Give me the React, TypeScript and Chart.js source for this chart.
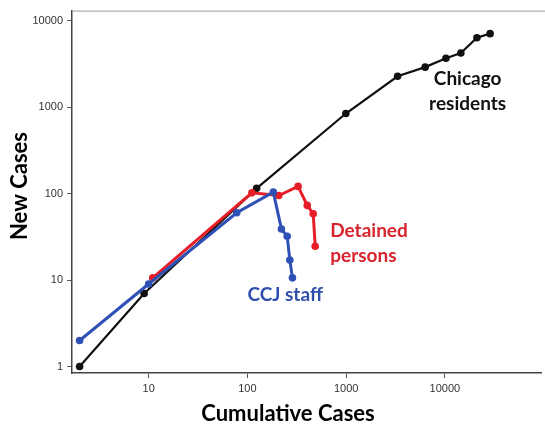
import React, { useEffect, useRef } from 'react';
import { Chart, registerables } from 'chart.js';

Chart.register(...registerables);

// Chicago residents
const chicagoCumulative = [2, 9, 124, 993, 3320, 6310, 10250, 14500, 21100, 28700];
const chicagoNew = [1, 7, 115, 843, 2275, 2900, 3670, 4230, 6350, 7070];
// CCJ staff
const staffCumulative = [2, 10, 78, 183, 221, 253, 269, 286];
const staffNew = [2, 9, 60, 104, 39, 32, 17, 10.6];
// Detained persons
const detainedCumulative = [11, 111, 208, 326, 404, 464, 486];
const detainedNew = [10.6, 102, 95, 121, 73, 58.5, 24.6];

const xTickValues = [10, 100, 1000, 10000];
const yTickValues = [1, 10, 100, 1000, 10000];

const xTitle = 'Cumulative Cases';
const yTitle = 'New Cases';

const seriesLabels = [
  { lines: ['Chicago', 'residents'], x: 17000, y: 2120, align: 'center', color: '#111111' },
  { lines: ['Detained', 'persons'], x: 690, y: 37.5, align: 'left', color: '#d9232e' },
  { lines: ['CCJ staff'], x: 241, y: 6.7, align: 'center', color: '#2f4fae' },
];

const X_MIN = 1.675;
const X_MAX = 94000;
const Y_MIN = 0.841;
const Y_MAX = 13070;

const RED = '#e61e28';
const BLUE = '#2f50b4';
const BLACK = '#111111';

const toPoints = (xs: number[], ys: number[]) => xs.map((x, i) => ({ x, y: ys[i] }));

const textPlugin = {
  id: 'textPlugin',
  afterDatasetsDraw(chart: any) {
    const { ctx, chartArea, scales } = chart;
    ctx.save();
    // top frame line
    ctx.strokeStyle = '#9a9a9a';
    ctx.lineWidth = 1;
    ctx.beginPath();
    ctx.moveTo(chartArea.left, chartArea.top + 0.5);
    ctx.lineTo(chart.width, chartArea.top + 0.5);
    ctx.stroke();

    // series labels
    ctx.font = 'bold 19px Lato';
    ctx.textBaseline = 'middle';
    seriesLabels.forEach((lab) => {
      const px = scales.x.getPixelForValue(lab.x);
      const py = scales.y.getPixelForValue(lab.y);
      ctx.fillStyle = lab.color;
      ctx.textAlign = lab.align as CanvasTextAlign;
      lab.lines.forEach((t, i) => ctx.fillText(t, px, py + i * 25));
    });

    // axis titles
    ctx.fillStyle = '#000';
    ctx.font = 'bold 22px Lato';
    ctx.textAlign = 'center';
    ctx.textBaseline = 'middle';
    ctx.fillText(xTitle, 288, 414);
    ctx.translate(20, 186);
    ctx.rotate(-Math.PI / 2);
    ctx.fillText(yTitle, 0, 0);
    ctx.restore();
  },
};

export default function App() {
  const ref = useRef<HTMLCanvasElement>(null);
  useEffect(() => {
    if (!ref.current) return;
    const ds = (label: string, xs: number[], ys: number[], color: string, order: number, width: number) => ({
      label,
      data: toPoints(xs, ys),
      borderColor: color,
      backgroundColor: color,
      pointBackgroundColor: color,
      pointBorderWidth: 0,
      pointRadius: 3.8,
      borderWidth: width,
      tension: 0,
      order,
    });
    const chart = new Chart(ref.current, {
      type: 'line',
      data: {
        datasets: [
          ds('Chicago residents', chicagoCumulative, chicagoNew, BLACK, 2, 2.2),
          ds('Detained persons', detainedCumulative, detainedNew, RED, 1, 3),
          ds('CCJ staff', staffCumulative, staffNew, BLUE, 0, 3),
        ],
      },
      options: {
        responsive: false,
        animation: false,
        layout: { padding: { top: 6, right: 0, left: 0, bottom: 0 } },
        plugins: { legend: { display: false }, tooltip: { enabled: false } },
        scales: {
          x: {
            type: 'logarithmic',
            position: 'bottom',
            min: X_MIN,
            max: X_MAX,
            afterBuildTicks: (s: any) => {
              s.ticks = xTickValues.map((v) => ({ value: v }));
            },
            afterFit: (s: any) => {
              s.height = 53;
            },
            ticks: {
              callback: (v: any) => String(v),
              font: { family: '"Liberation Sans", Arial, sans-serif', size: 11 },
              color: '#333',
              padding: 4,
              maxRotation: 0,
              autoSkip: false,
            },
            grid: { display: true, drawOnChartArea: false, drawTicks: true, tickLength: 5, color: '#555', lineWidth: 1 },
            border: { display: true, color: '#444', width: 1.5 },
          },
          y: {
            type: 'logarithmic',
            position: 'left',
            min: Y_MIN,
            max: Y_MAX,
            afterBuildTicks: (s: any) => {
              s.ticks = yTickValues.map((v) => ({ value: v }));
            },
            afterFit: (s: any) => {
              s.width = 72;
            },
            ticks: {
              callback: (v: any) => String(v),
              font: { family: '"Liberation Sans", Arial, sans-serif', size: 11 },
              color: '#333',
              padding: 4,
              autoSkip: false,
            },
            grid: { display: true, drawOnChartArea: false, drawTicks: true, tickLength: 5, color: '#555', lineWidth: 1 },
            border: { display: true, color: '#444', width: 1.5 },
          },
        },
      },
      plugins: [textPlugin],
    });
    return () => chart.destroy();
  }, []);
  return (
    <div style={{ position: 'absolute', left: 0, top: 0, width: 545, height: 426, background: '#fff' }}>
      <canvas ref={ref} width={545} height={426} />
    </div>
  );
}
